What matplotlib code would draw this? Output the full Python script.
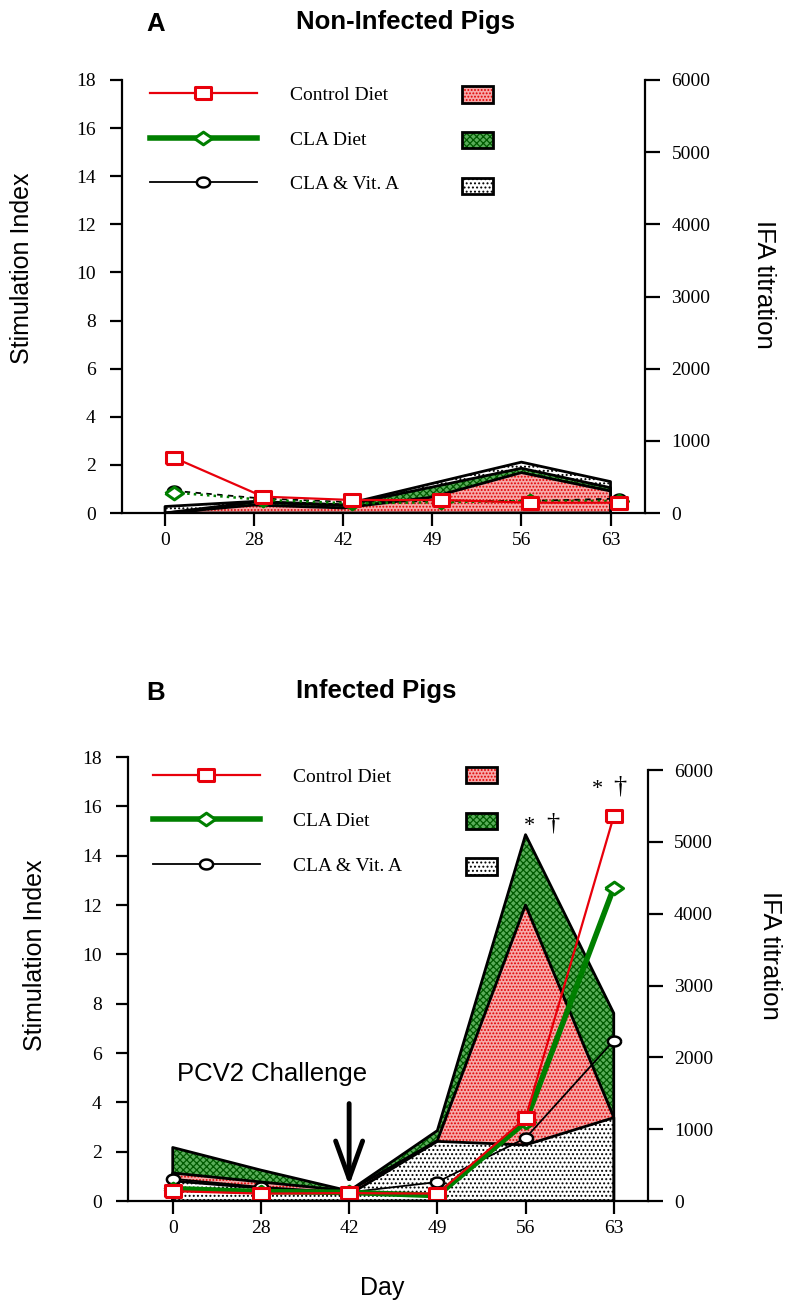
import numpy as np
import matplotlib
matplotlib.use("Agg")
import matplotlib.pyplot as plt
from matplotlib.lines import Line2D
from matplotlib.patches import Patch
from matplotlib.legend_handler import HandlerTuple

# =============================================================================
# DATA
# =============================================================================

days = ["0", "28", "42", "49", "56", "63"]
groups = ["Control Diet", "CLA Diet", "CLA & Vit. A"]

# panel A - non-infected pigs, stimulation index (left axis)
si_ctrl_a = [2.3, 0.68, 0.54, 0.54, 0.43, 0.43]
si_cla_a = [0.85, 0.55, 0.4, 0.45, 0.5, 0.5]
si_vita_a = [0.92, 0.6, 0.45, 0.5, 0.5, 0.6]
# panel A - IFA titration (right axis)
ifa_ctrl_a = [0, 110, 70, 220, 560, 305]
ifa_cla_a = [0, 150, 105, 360, 620, 350]
ifa_vita_a = [90, 160, 115, 410, 705, 435]

# panel B - infected pigs
si_ctrl_b = [0.4, 0.3, 0.32, 0.3, 3.35, 15.6]
si_cla_b = [0.5, 0.38, 0.35, 0.22, 3.2, 12.7]
si_vita_b = [0.9, 0.57, 0.35, 0.77, 2.55, 6.5]
ifa_ctrl_b = [390, 265, 140, 840, 4120, 1165]
ifa_cla_b = [745, 430, 140, 980, 5100, 2615]
ifa_vita_b = [280, 180, 90, 830, 780, 1160]

challenge_day = "42"
signif_days = ["56", "63"]

# =============================================================================
# STYLE
# =============================================================================

plt.rcParams["font.family"] = "serif"
plt.rcParams["font.serif"] = ["Liberation Serif", "DejaVu Serif"]
plt.rcParams["hatch.linewidth"] = 0.9

SANS = ["Liberation Sans", "DejaVu Sans"]

SQUARE = [(-1, -0.72), (1, -0.72), (1, 0.72), (-1, 0.72), (-1, -0.72)]
DIAMOND = [(-1, 0), (0, 0.7), (1, 0), (0, -0.7), (-1, 0)]
_t = np.linspace(0, 2 * np.pi, 41)
OVAL = np.column_stack([np.cos(_t), 0.75 * np.sin(_t)])

LINE_STYLE = {
    "Control Diet": dict(color="#e8000b", lw=1.6, marker=SQUARE, ms=12,
                         mfc="white", mec="#e8000b", mew=2.2),
    "CLA Diet": dict(color="#007f00", lw=4, marker=DIAMOND, ms=13,
                     mfc="white", mec="#007f00", mew=2.2),
    "CLA & Vit. A": dict(color="black", lw=1.3, marker=OVAL, ms=9.5,
                         mfc="white", mec="black", mew=1.8),
}

AREA_STYLE = {
    "Control Diet": dict(facecolor="#f6a9a9", edgecolor="#e00000",
                         hatch="....."),
    "CLA Diet": dict(facecolor="#5aad5a", edgecolor="#005a00",
                     hatch="xxxxx"),
    "CLA & Vit. A": dict(facecolor="white", edgecolor="black",
                         hatch="...."),
}


def area(ax, x, y, name):
    ax.fill_between(x, 0, y, linewidth=0, **AREA_STYLE[name])
    ax.fill_between(x, 0, y, facecolor="none", edgecolor="black",
                    linewidth=2)


def setup_axes(ax, ax2, xlim, ytop2):
    x = np.arange(len(days))
    ax.set_xlim(*xlim)
    ax.set_ylim(0, 18)
    ax.set_yticks(np.arange(0, 19, 2))
    ax.set_xticks(x)
    ax.set_xticklabels(days)
    ax2.set_ylim(0, ytop2)
    ax2.set_yticks(np.arange(0, 6001, 1000))
    ax2.spines["right"].set_bounds(0, 6000)
    for s in ["top", "right"]:
        ax.spines[s].set_visible(False)
    for s in ["top", "left", "bottom"]:
        ax2.spines[s].set_visible(False)
    for sp in list(ax.spines.values()) + list(ax2.spines.values()):
        sp.set_linewidth(1.6)
    ax.tick_params(axis="y", length=9, width=1.6, pad=10, labelsize=14)
    ax.tick_params(axis="x", length=9, width=1.6, pad=5, labelsize=14)
    ax2.tick_params(axis="y", length=11, width=1.6, pad=8, labelsize=14)
    # lines on top of the IFA areas
    ax.set_zorder(ax2.get_zorder() + 1)
    ax.patch.set_visible(False)


def legends(ax, xl, yl, xp, yp):
    hl = [Line2D([], [], **LINE_STYLE[g]) for g in groups]
    leg = ax.legend(hl, groups, loc="upper left", bbox_to_anchor=(xl, yl),
                    frameon=False, borderpad=0, borderaxespad=0,
                    handlelength=5.5, handletextpad=1.7, labelspacing=1.38,
                    prop=dict(family="Liberation Serif", size=14))
    ax.add_artist(leg)
    hp = [(Patch(linewidth=0, **AREA_STYLE[g]),
           Patch(facecolor="none", edgecolor="black", linewidth=2))
          for g in groups]
    ax.legend(hp, [" "] * 3, loc="upper left", bbox_to_anchor=(xp, yp),
              frameon=False, borderpad=0, borderaxespad=0,
              handlelength=1.6, handleheight=0.9, handletextpad=0,
              labelspacing=1.38, handler_map={tuple: HandlerTuple(ndivide=1)},
              prop=dict(family="Liberation Serif", size=14))


fig = plt.figure(figsize=(7.85, 13.04), dpi=100)
W, H = 785.0, 1304.0
x = np.arange(len(days))

# =============================================================================
# PANEL A
# =============================================================================

axA = fig.add_axes([122 / W, 1 - 513 / H, 523 / W, 433 / H])
axA2 = axA.twinx()
setup_axes(axA, axA2, (-0.483, 5.387), 6000)

area(axA2, x, ifa_vita_a, "CLA & Vit. A")
area(axA2, x, ifa_cla_a, "CLA Diet")
area(axA2, x, ifa_ctrl_a, "Control Diet")

xs = x + 0.1
axA.plot(xs, si_vita_a, **dict(LINE_STYLE["CLA & Vit. A"], ls=(0, (3, 3))))
axA.plot(xs, si_cla_a, **dict(LINE_STYLE["CLA Diet"], lw=1.8, ls=":"))
axA.plot(xs, si_ctrl_a, **LINE_STYLE["Control Diet"])

legends(axA, 0.0535, 0.985, 0.650, 0.985)

axA.text(-0.191, 0.566, "Stimulation Index", transform=axA.transAxes,
         rotation=90, ha="center", va="center", family=SANS, fontsize=18)
axA.text(1.2275, 0.527, "IFA titration", transform=axA.transAxes,
         rotation=-90, ha="center", va="center", family=SANS, fontsize=18.5)
fig.text(156 / W, 1 - 24 / H, "A", ha="center", va="center",
         family=SANS, weight="bold", fontsize=18.5)
fig.text(405 / W, 1 - 22 / H, "Non-Infected Pigs", ha="center",
         va="center", family=SANS, weight="bold", fontsize=18.5)

# =============================================================================
# PANEL B
# =============================================================================

axB = fig.add_axes([128 / W, 1 - 1201 / H, 519.7 / W, 444 / H])
axB2 = axB.twinx()
setup_axes(axB, axB2, (-0.507, 5.385), 6181)

area(axB2, x, ifa_cla_b, "CLA Diet")
area(axB2, x, ifa_ctrl_b, "Control Diet")
area(axB2, x, ifa_vita_b, "CLA & Vit. A")

axB.plot(x, si_vita_b, **LINE_STYLE["CLA & Vit. A"])
axB.plot(x, si_cla_b, **LINE_STYLE["CLA Diet"])
axB.plot(x, si_ctrl_b, **LINE_STYLE["Control Diet"])

legends(axB, 0.048, 0.975, 0.650, 0.977)

# challenge arrow
ic = days.index(challenge_day)
axB.annotate("", xy=(ic, 0.62), xytext=(ic, 3.95),
             arrowprops=dict(arrowstyle="->,head_length=1.0,head_width=0.36",
                             lw=3.5, color="black", mutation_scale=27,
                             shrinkA=0, shrinkB=0))
axB.text(ic - 0.874, 5.15, "PCV2 Challenge", ha="center", va="center",
         family=SANS, fontsize=18.5)

# significance marks above the peaks
for d, ymark in zip(signif_days, [15.3, 16.8]):
    i = days.index(d)
    off = 0.05 if d == "56" else -0.19
    axB.text(i + off, ymark - 0.1, "*", ha="center", va="center", fontsize=16)
    axB.text(i + off + 0.26, ymark, "\u2020", ha="center", va="center",
             fontsize=19)

axB.text(-0.179, 0.554, "Stimulation Index", transform=axB.transAxes,
         rotation=90, ha="center", va="center", family=SANS, fontsize=18)
axB.text(1.235, 0.554, "IFA titration", transform=axB.transAxes,
         rotation=-90, ha="center", va="center", family=SANS, fontsize=18.5)
axB.text(0.489, -0.196, "Day", transform=axB.transAxes, ha="center",
         va="center", family=SANS, fontsize=18)
fig.text(156 / W, 1 - 693 / H, "B", ha="center", va="center",
         family=SANS, weight="bold", fontsize=18.5)
fig.text(376 / W, 1 - 691 / H, "Infected Pigs", ha="center", va="center",
         family=SANS, weight="bold", fontsize=18.5)

fig.savefig("out.png", dpi=100)
